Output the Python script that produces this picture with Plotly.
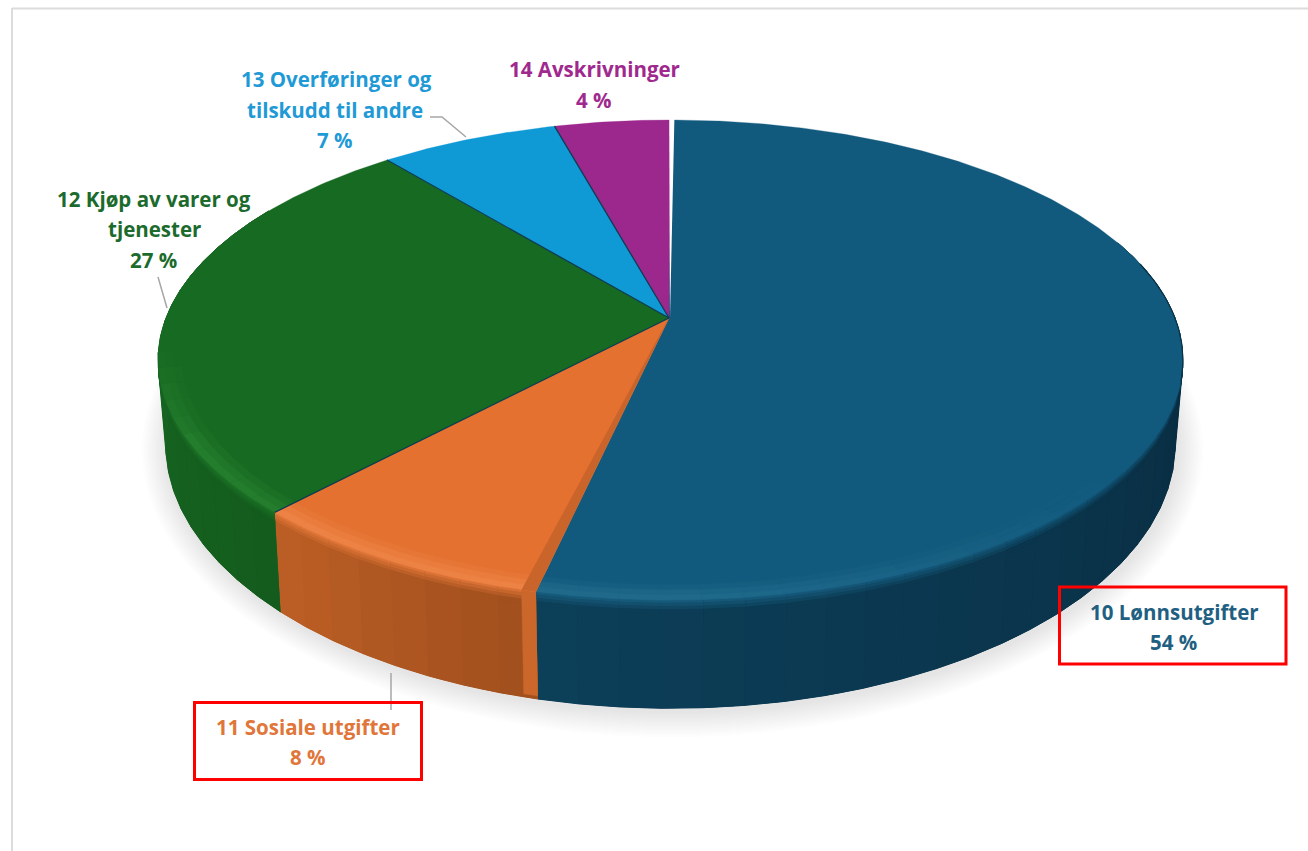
import numpy as np
import plotly.graph_objects as go

# ---- data ----
CATEGORIES = ["10 Lønnsutgifter", "11 Sosiale utgifter", "12 Kjøp av varer og tjenester",
              "13 Overføringer og tilskudd til andre", "14 Avskrivninger"]
VALUES = [53.55, 8.45, 27.0, 6.67, 4.33]
PERCENT_LABELS = ["54 %", "8 %", "27 %", "7 %", "4 %"]
FACE_COLORS = ["#125a7d", "#e47130", "#176a22", "#0f9ad6", "#9c278d"]
WALL_START = ["#0c3f59", "#a04f1e", "#135c1d", "#0b6f9c", "#701c66"]
WALL_END = ["#08273a", "#bd5f25", "#1a6a25", "#0b6f9c", "#701c66"]
HIGHLIGHT = ["#226c8e", "#ee8547", "#26802f", "#0f9ad6", "#9c278d"]
TEXT_COLORS = ["#1f6082", "#e0763a", "#1c6b2d", "#1f9ad6", "#a0298e"]
LABEL_LINES = [
    [("10 Lønnsutgifter", 1174, 612), ("54 %", 1173, 642)],
    [("11 Sosiale utgifter", 308, 727), ("8 %", 308, 757)],
    [("12 Kjøp av varer og", 154, 199), ("tjenester", 154, 229), ("27 %", 153, 260)],
    [("13 Overføringer og", 336, 79), ("tilskudd til andre", 335, 110), ("7 %", 335, 140)],
    [("14 Avskrivninger", 594, 69), ("4 %", 594, 100)],
]

# ---- projection of the tilted disc onto the axes ----
CX, CY, A, B, K = 669.0, 318.0, 504.5, 232.7, 0.175
RIM_SHIFT = 1.5
DEPTH, SX, SY = 80.0, 0.985, 1.10


def top(theta, r=1.0):
    t = np.radians(theta)
    x, y = r * np.sin(t), r * np.cos(t)
    w = 1 + K * y
    return CX + RIM_SHIFT * r + A * x / w, CY - B * y / w


def side(theta, h):
    px, py = top(theta)
    bx = CX + SX * (px - CX)
    by = CY + DEPTH + SY * (py - CY)
    return px + (bx - px) * h, py + (by - py) * h


def rgb(c):
    return np.array([int(c[i:i + 2], 16) for i in (1, 3, 5)], float)


def mix(c1, c2, t):
    v = rgb(c1) * (1 - t) + rgb(c2) * t
    return "#%02x%02x%02x" % tuple(int(round(a)) for a in v)


fig = go.Figure()


def poly(xs, ys, color, name="", edge=0.6):
    fig.add_trace(go.Scatter(x=list(xs), y=list(ys), mode="lines", fill="toself", fillcolor=color,
                             line=dict(color=color, width=edge), hoverinfo="skip",
                             showlegend=False, name=name))


def clamp(v):
    return max(0.0, min(1.0, v))


def glow(theta):
    return clamp((theta - 130) / 50) * clamp((262 - theta) / 22)


edges = 360 * np.cumsum([0] + VALUES) / sum(VALUES)

# soft shadow below the disc
arc = np.linspace(40, 320, 160)
bx, by = side(arc, 1.0)
for off in range(26, 0, -2):
    dx, dy = bx - CX, by - (CY + 60)
    n = np.hypot(dx, dy)
    fig.add_trace(go.Scatter(x=list(bx + dx / n * off + 2), y=list(by + dy / n * off + 3), mode="lines",
                             fill="toself", fillcolor="rgba(60,60,60,0.012)", line=dict(width=0),
                             hoverinfo="skip", showlegend=False))

# walls
WALL_ROWS = [0.0, 0.03, 0.06, 0.09, 0.13, 1.0]
FACE_ROWS = [0.955, 0.97, 0.985, 1.0]
STEP = 4.0
for i in range(5):
    a0, a1 = max(edges[i], 70), min(edges[i + 1], 300)
    if a1 <= a0:
        continue
    # solid underlay so that neighbouring strips leave no seam
    ts = np.linspace(a0, a1, 60)
    x0, y0 = side(ts, 0.0)
    x1, y1 = side(ts[::-1], 1.0)
    poly(np.r_[x0, x1], np.r_[y0, y1], mix(WALL_START[i], WALL_END[i], 0.5), CATEGORIES[i], edge=0.2)
    n = max(2, int(np.ceil((a1 - a0) / STEP)))
    g = np.linspace(a0, a1, n + 1)
    for j in range(n):
        p, q = g[j], g[j + 1]
        ts = np.linspace(p, q, 3)
        mid = (p + q) / 2
        u = (mid - a0) / (a1 - a0)
        wall = mix(WALL_START[i], WALL_END[i], 1 - u if i == 0 else u)
        s = glow(mid)
        hl = mix(FACE_COLORS[i], HIGHLIGHT[i], s)
        x0, y0 = side(ts, 0.0)
        x1, y1 = side(ts[::-1], 1.0)
        poly(np.r_[x0, x1], np.r_[y0, y1], wall, CATEGORIES[i], edge=1.0)
        for k in range(len(WALL_ROWS) - 2):
            h0, h1 = WALL_ROWS[k], WALL_ROWS[k + 1]
            c = mix(mix(FACE_COLORS[i], hl, 0.5), wall, (k + 1) / (len(WALL_ROWS) - 2))
            xa, ya = side(ts, h0)
            xb, yb = side(ts[::-1], h1)
            poly(np.r_[xa, xb], np.r_[ya, yb], c, CATEGORIES[i], edge=1.0)

# orange cut face beside the blue slice
ORANGE_CUT = 1.4
t = np.linspace(edges[1], edges[1] + ORANGE_CUT, 3)
xa, ya = side(t, 0.0)
xb, yb = side(t[::-1], 0.97)
poly(np.r_[xa, xb], np.r_[ya, yb], "#cb672b", CATEGORIES[1])

# top faces
for i in range(5):
    ts = np.linspace(edges[i], edges[i + 1], max(8, int(edges[i + 1] - edges[i]) * 2))
    x, y = top(ts)
    poly(np.r_[CX, x, CX], np.r_[CY, y, CY], FACE_COLORS[i], CATEGORIES[i], edge=0.3)

# bevel on the front of the top faces
for i in range(3):
    a0, a1 = max(edges[i], 130), min(edges[i + 1], 262)
    if a1 <= a0:
        continue
    n = max(2, int(np.ceil((a1 - a0) / STEP)))
    g = np.linspace(a0, a1, n + 1)
    for j in range(n):
        ts = np.linspace(g[j], g[j + 1], 3)
        hl = mix(FACE_COLORS[i], HIGHLIGHT[i], glow((g[j] + g[j + 1]) / 2))
        for k, weight in enumerate([0.25, 0.6, 0.85]):
            xa, ya = top(ts, FACE_ROWS[k])
            xb, yb = top(ts[::-1], FACE_ROWS[k + 1])
            poly(np.r_[xa, xb], np.r_[ya, yb], mix(FACE_COLORS[i], hl, weight), CATEGORIES[i], edge=0.6)

# darker strip of orange along the blue slice on the top face
t = np.linspace(edges[1], edges[1] + ORANGE_CUT, 3)
x, y = top(t)
poly(np.r_[CX, x, CX], np.r_[CY, y, CY], "#c9642b", CATEGORIES[1], edge=0.3)

# dark edge at the far right of the rim
t = np.linspace(76, 105, 30)
x, y = top(t)
fig.add_trace(go.Scatter(x=list(x), y=list(y), mode="lines", line=dict(color="#0a3044", width=1.2),
                         hoverinfo="skip", showlegend=False))

# slice boundaries
for e in edges[2:5]:
    x, y = top(np.array([e]))
    fig.add_trace(go.Scatter(x=[CX, x[0]], y=[CY, y[0]], mode="lines", line=dict(color="#0e3b52", width=1.3),
                             hoverinfo="skip", showlegend=False))

# white gap at the start of the first slice
poly([CX + 0.2, CX + 5.5, CX + 1.0], [CY - 204, CY - 204, CY], "#ffffff", edge=0)

# leader lines
LEADERS = [([391, 391], [673, 710]), ([158, 167], [277, 308]), ([430, 442, 466], [117, 117, 137])]
for lx, ly in LEADERS:
    fig.add_trace(go.Scatter(x=lx, y=ly, mode="lines", line=dict(color="#a6a6a6", width=1.5),
                             hoverinfo="skip", showlegend=False))

# labels
for i, lines in enumerate(LABEL_LINES):
    for text, tx, ty in lines:
        fig.add_annotation(x=tx, y=ty, text=text, showarrow=False, xref="x", yref="y",
                           xanchor="center", yanchor="middle",
                           font=dict(family="Open Sans", size=20.5, color=TEXT_COLORS[i], weight=700))

shapes = [
    dict(type="line", x0=12, x1=1308, y0=8.5, y1=8.5, line=dict(color="#dcdcdc", width=2), layer="below"),
    dict(type="line", x0=12, x1=12, y0=8, y1=851, line=dict(color="#dcdcdc", width=2), layer="below"),
    dict(type="rect", x0=1059.5, x1=1286, y0=587, y1=664, line=dict(color="#fe0000", width=3)),
    dict(type="rect", x0=194.5, x1=421.5, y0=702.5, y1=779.5, line=dict(color="#fe0000", width=3)),
]

fig.update_layout(
    width=1308, height=851, margin=dict(l=0, r=0, t=0, b=0),
    paper_bgcolor="white", plot_bgcolor="white", showlegend=False, shapes=shapes,
    xaxis=dict(range=[0, 1308], visible=False, fixedrange=True),
    yaxis=dict(range=[851, 0], visible=False, fixedrange=True),
)
fig.write_html("out.html", config=dict(displayModeBar=False),
               post_script="document.body.style.margin='0';document.body.style.overflow='hidden';")
